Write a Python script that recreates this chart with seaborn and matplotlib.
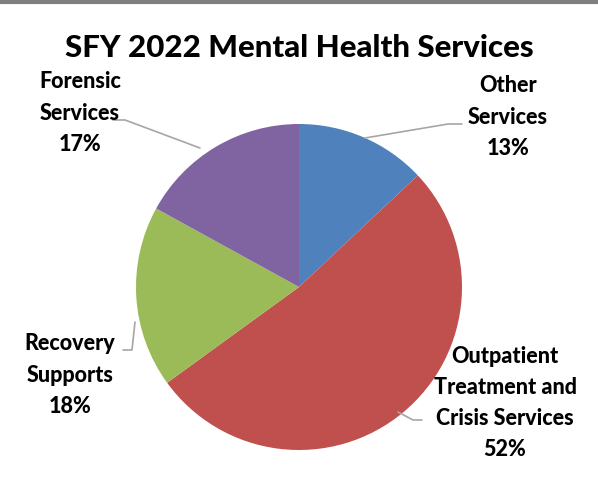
import matplotlib
matplotlib.use("Agg")
import matplotlib.pyplot as plt
import seaborn as sns

sns.set_theme(style="white")
plt.rcParams["font.family"] = ["Lato", "DejaVu Sans"]

# Data
categories = ["Other\nServices", "Outpatient\nTreatment and\nCrisis Services",
              "Recovery\nSupports", "Forensic\nServices"]
shares = [13, 52, 18, 17]
colors = ["#4F81BD", "#C0504D", "#9BBB59", "#8064A2"]

# label anchor (pixel coords, x, y of text centre) and leader lines
label_pos = [(508, 117), (505, 403), (70, 375), (80, 113)]
leaders = [
    [(462, 124), (448, 124), (365, 138)],
    [(422, 420), (413, 420), (398, 412)],
    [(123, 350), (132, 350), (135, 322)],
    [(113, 120), (125, 120), (200, 148)],
]

W, H = 598, 500
fig = plt.figure(figsize=(W / 100, H / 100), dpi=100)
ax = fig.add_axes([0, 0, 1, 1])

ax.pie(shares, colors=colors, startangle=90, counterclock=False,
       center=(299, H - 287), radius=163,
       wedgeprops=dict(linewidth=0))

ax.set_xlim(0, W)
ax.set_ylim(0, H)
ax.set_aspect("equal")
ax.axis("off")

for lab, val, (px, py) in zip(categories, shares, label_pos):
    ax.text(px, H - py, f"{lab}\n{val}%", ha="center", va="center",
            fontsize=15.5, fontweight=900, color="black", linespacing=1.6)

for pts in leaders:
    xs = [p[0] for p in pts]
    ys = [H - p[1] for p in pts]
    ax.plot(xs, ys, color="#A6A6A6", linewidth=1.2)

ax.text(W / 2, H - 48, "SFY 2022 Mental Health Services", ha="center",
        va="center", fontsize=22.5, fontweight=900, color="black")

# frame line at the top
ax.plot([0, W], [H - 2, H - 2], color="#7F7F7F", linewidth=3, clip_on=False)

fig.savefig("out.png", dpi=100)
